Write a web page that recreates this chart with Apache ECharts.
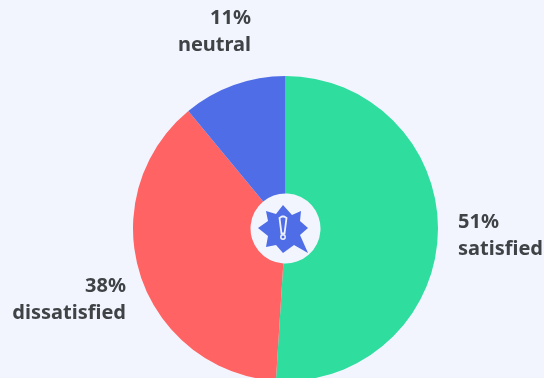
<!DOCTYPE html>
<html><head><meta charset="utf-8">
<style>html,body{margin:0;padding:0;background:#f2f5fe}#c{width:544px;height:378px}</style>
<script src="https://cdn.jsdelivr.net/npm/echarts@6/dist/echarts.min.js"></script>
</head><body><div id="c"></div>
<script>
const categories = ['satisfied','dissatisfied','neutral'];
const values = [51,38,11];
const colors = ['#2fde9e','#ff6363','#4f6de6'];
const labelAligns = ['left','right','right'];
const labelAnchors = [[458,236],[126,300],[251,32]];
const chart = echarts.init(document.getElementById('c'),null,{renderer:'canvas'});
const bg = '#f2f5fe', blue = '#4f6de6', cx = 285, cy = 228;
const star = [[-2,-23],[7,-13],[16,-17],[15,-7],[23,0],[15,7],[23,25],[9,17],[-2,25],[-9,17],[-19,19],[-17,8],[-27,0],[-17,-7],[-19,-17],[-9,-14]];
const bang = [[-5.5,-10],[-3,-11.5],[-1,-11.5],[1.5,-10],[-0.5,5.5],[-3.5,5.5]];
chart.setOption({
  backgroundColor: bg,
  animation:false,
  series:[{
    type:'pie', center:[285.5,228.5], radius:[35,152.5], startAngle:90, clockwise:true,
    data:categories.map((n,i)=>({name:n,value:values[i],itemStyle:{color:colors[i]},label:{align:labelAligns[i]}})),
    label:{show:true,position:'outside',overflow:'none',formatter:p=>p.value+'%\n'+p.name,
      fontFamily:'Noto Sans',fontWeight:'bold',fontSize:20,lineHeight:27,color:'#3f4346'},
    labelLine:{show:false},
    labelLayout:p=>({x:labelAnchors[p.dataIndex][0],y:labelAnchors[p.dataIndex][1],align:labelAligns[p.dataIndex],verticalAlign:'middle',hideOverlap:false}),
    emphasis:{disabled:true}
  }],
  graphic:[
    {type:'polygon',x:cx,y:cy,shape:{points:star},style:{fill:blue},z:10},
    {type:'polygon',x:cx,y:cy,z:11,shape:{points:bang},style:{fill:blue,stroke:'#eef2ff',lineWidth:1.8}},
    {type:'circle',x:cx-2,y:cy+9,z:11,shape:{r:2.2},style:{fill:blue,stroke:'#eef2ff',lineWidth:1.5}}
  ]
});
</script></body></html>
